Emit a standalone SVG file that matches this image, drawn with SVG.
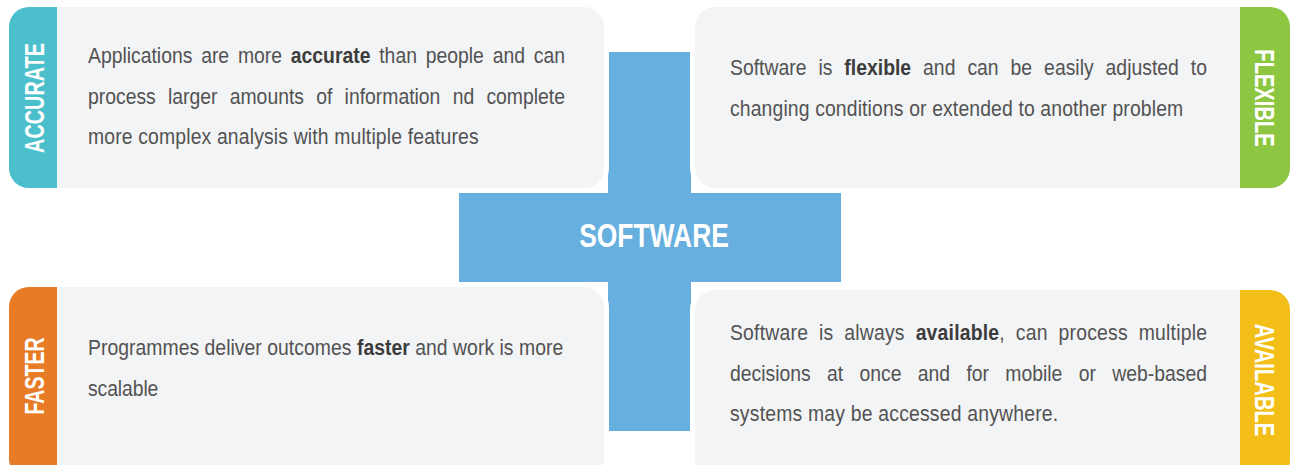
<svg xmlns="http://www.w3.org/2000/svg" width="1294" height="465" viewBox="0 0 1294 465">
  <style>
    .card { fill: #f3f4f6; stroke: #ffffff; stroke-width: 10; paint-order: stroke; }
    .hub { fill: #67afde; }
    .body { font-family: "Liberation Sans", Arial, sans-serif; font-size: 22px; fill: #525252; }
    .body tspan.em { font-weight: bold; fill: #3c3c3c; }
    .tab-label { font-family: "Liberation Sans", Arial, sans-serif; font-size: 28px; font-weight: bold; fill: #ffffff; text-anchor: middle; }
    .hub-label { font-family: "Liberation Sans", Arial, sans-serif; font-size: 33px; font-weight: bold; fill: #ffffff; text-anchor: middle; }
  </style>

  <!-- central cross -->
  <g id="software">
    <rect class="hub" x="608" y="52" width="83" height="379"/>
    <rect class="hub" x="459" y="193" width="382" height="89"/>
    <text class="hub-label" transform="translate(654,247) scale(0.8,1)" textLength="187" lengthAdjust="spacingAndGlyphs">SOFTWARE</text>
  </g>

  <!-- body copy is set in a condensed width: scale(0.88,1), lengths in scaled units;
       justified lines widen their word gaps, textLength trims the remainder -->

  <!-- top-left: accurate -->
  <g id="accurate">
    <rect class="card" x="9" y="7" width="595" height="181" rx="20"/>
    <path d="M57,7 H29 A20,20 0 0 0 9,27 V168 A20,20 0 0 0 29,188 H57 Z" fill="#4bc0cc"/>
    <text class="tab-label" transform="translate(44,98) rotate(-90) scale(0.7,1)" textLength="157" lengthAdjust="spacingAndGlyphs">ACCURATE</text>
    <text class="body" transform="translate(88,63) scale(0.88,1)" word-spacing="3.9" textLength="542" lengthAdjust="spacing">Applications are more <tspan class="em">accurate</tspan> than people and can</text>
    <text class="body" transform="translate(88,103.5) scale(0.88,1)" word-spacing="7.8" textLength="542" lengthAdjust="spacing">process larger amounts of information nd complete</text>
    <text class="body" transform="translate(88,144) scale(0.88,1)" textLength="444" lengthAdjust="spacing">more complex analysis with multiple features</text>
  </g>

  <!-- top-right: flexible -->
  <g id="flexible">
    <rect class="card" x="695" y="7" width="595" height="181" rx="20"/>
    <path d="M1240,7 H1270 A20,20 0 0 1 1290,27 V168 A20,20 0 0 1 1270,188 H1240 Z" fill="#8dc641"/>
    <text class="tab-label" transform="translate(1255,98) rotate(90) scale(0.7,1)" textLength="139" lengthAdjust="spacingAndGlyphs">FLEXIBLE</text>
    <text class="body" transform="translate(730,75) scale(0.88,1)" word-spacing="7.5" textLength="542" lengthAdjust="spacing">Software is <tspan class="em">flexible</tspan> and can be easily adjusted to</text>
    <text class="body" transform="translate(730,116) scale(0.88,1)" textLength="515" lengthAdjust="spacing">changing conditions or extended to another problem</text>
  </g>

  <!-- bottom-left: faster -->
  <g id="faster">
    <rect class="card" x="9" y="287" width="595" height="192" rx="20"/>
    <path d="M57,287 H29 A20,20 0 0 0 9,307 V459 A20,20 0 0 0 29,479 H57 Z" fill="#e87b26"/>
    <text class="tab-label" transform="translate(44,376) rotate(-90) scale(0.7,1)" textLength="110" lengthAdjust="spacingAndGlyphs">FASTER</text>
    <text class="body" transform="translate(88,355) scale(0.88,1)" textLength="540" lengthAdjust="spacing">Programmes deliver outcomes <tspan class="em">faster</tspan> and work is more</text>
    <text class="body" transform="translate(88,396) scale(0.88,1)" textLength="80" lengthAdjust="spacing">scalable</text>
  </g>

  <!-- bottom-right: available -->
  <g id="available">
    <rect class="card" x="695" y="290" width="595" height="190" rx="20"/>
    <path d="M1240,290 H1270 A20,20 0 0 1 1290,310 V460 A20,20 0 0 1 1270,480 H1240 Z" fill="#f3be18"/>
    <text class="tab-label" transform="translate(1255,380) rotate(90) scale(0.7,1)" textLength="161" lengthAdjust="spacingAndGlyphs">AVAILABLE</text>
    <text class="body" transform="translate(730,340) scale(0.88,1)" word-spacing="6" textLength="542" lengthAdjust="spacing">Software is always <tspan class="em">available</tspan>, can process multiple</text>
    <text class="body" transform="translate(730,381) scale(0.88,1)" word-spacing="12.4" textLength="542" lengthAdjust="spacing">decisions at once and for mobile or web-based</text>
    <text class="body" transform="translate(730,421) scale(0.88,1)" textLength="373" lengthAdjust="spacing">systems may be accessed anywhere.</text>
  </g>

  <!-- no connectors: the cards meet at the central cross -->
  <g id="connectors"/>
</svg>
